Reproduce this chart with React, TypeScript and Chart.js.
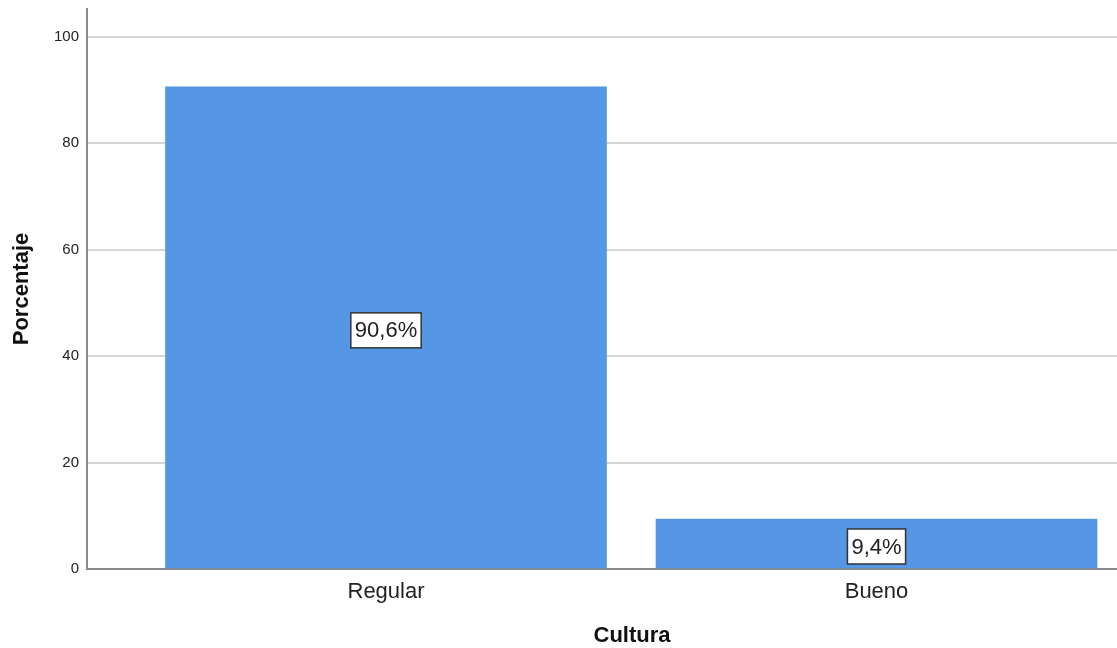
import React, { useEffect, useRef } from 'react';
import { Chart, registerables } from 'chart.js';

Chart.register(...registerables);

const categories = ['Regular', 'Bueno'];
const percentages = [90.6, 9.4];
const yTickValues = [0, 20, 40, 60, 80, 100];
const xTickValues = [0, 1];

const FONT = "'Liberation Sans', Arial, Helvetica, sans-serif";

export default function App() {
  const ref = useRef<HTMLCanvasElement>(null);

  useEffect(() => {
    if (!ref.current) return;

    const labelPlugin = {
      id: 'boxLabels',
      afterDatasetsDraw(chart: any) {
        const ctx = chart.ctx as CanvasRenderingContext2D;
        const meta = chart.getDatasetMeta(0);
        ctx.save();
        ctx.font = `22px ${FONT}`;
        ctx.textAlign = 'center';
        ctx.textBaseline = 'middle';
        meta.data.forEach((bar: any, i: number) => {
          const text = percentages[i].toFixed(1).replace('.', ',') + '%';
          const { x, y, base } = bar.getProps(['x', 'y', 'base'], true);
          const cy = (y + base) / 2 + 3;
          const w = ctx.measureText(text).width + 8;
          const h = 35;
          ctx.fillStyle = '#ffffff';
          ctx.fillRect(x - w / 2, cy - h / 2, w, h);
          ctx.strokeStyle = '#333333';
          ctx.lineWidth = 1.5;
          ctx.strokeRect(x - w / 2, cy - h / 2, w, h);
          ctx.fillStyle = '#222222';
          ctx.fillText(text, x, cy + 1);
        });
        ctx.restore();
      },
    };

    const chart = new Chart(ref.current, {
      type: 'bar',
      data: {
        datasets: [
          {
            data: categories.map((_, i) => ({ x: i, y: percentages[i] })),
            backgroundColor: '#5596E5',
            borderWidth: 0,
            barThickness: 441,
          },
        ],
      },
      options: {
        responsive: false,
        animation: false,
        devicePixelRatio: 1,
        layout: { padding: { top: 9, left: 0, right: 0, bottom: 0 } },
        plugins: {
          legend: { display: false },
          tooltip: { enabled: false },
        },
        scales: {
          x: {
            type: 'linear',
            min: -0.6096,
            max: 1.6126,
            offset: false,
            grid: { display: false, drawTicks: false },
            border: { display: true, color: '#8a8a8a', width: 2 },
            afterBuildTicks: (scale: any) => {
              scale.ticks = xTickValues.map((v) => ({ value: v }));
            },
            afterFit: (scale: any) => {
              scale.height = 79;
              scale.paddingLeft = 0;
              scale.paddingRight = 0;
            },
            ticks: {
              padding: 10,
              autoSkip: false,
              maxRotation: 0,
              color: '#222222',
              font: { family: FONT, size: 22 },
              callback: (v: any) => categories[Math.round(Number(v))] ?? '',
            },
            title: {
              display: true,
              text: 'Cultura',
              color: '#111111',
              font: { family: FONT, size: 22, weight: 'bold', lineHeight: 1 },
              padding: { top: 0, bottom: 1 },
            },
          },
          y: {
            min: 0,
            max: 105.2,
            grid: { color: '#d6d6d6', lineWidth: 2, drawTicks: false },
            border: { display: true, color: '#8a8a8a', width: 2 },
            afterBuildTicks: (scale: any) => {
              scale.ticks = yTickValues.map((v) => ({ value: v }));
            },
            afterFit: (scale: any) => {
              scale.width = 87;
              scale.paddingTop = 0;
              scale.paddingBottom = 0;
            },
            ticks: {
              padding: 8,
              color: '#222222',
              font: { family: FONT, size: 15 },
            },
            title: {
              display: true,
              text: 'Porcentaje',
              color: '#111111',
              font: { family: FONT, size: 22, weight: 'bold', lineHeight: 1 },
              padding: { top: 11, bottom: 0 },
            },
          },
        },
      },
      plugins: [labelPlugin],
    } as any);

    return () => chart.destroy();
  }, []);

  return (
    <div
      style={{
        position: 'absolute',
        left: 0,
        top: 0,
        width: 1117,
        height: 648,
        overflow: 'hidden',
        background: '#ffffff',
      }}
    >
      <canvas ref={ref} width={1177} height={648} style={{ display: 'block' }} />
    </div>
  );
}
